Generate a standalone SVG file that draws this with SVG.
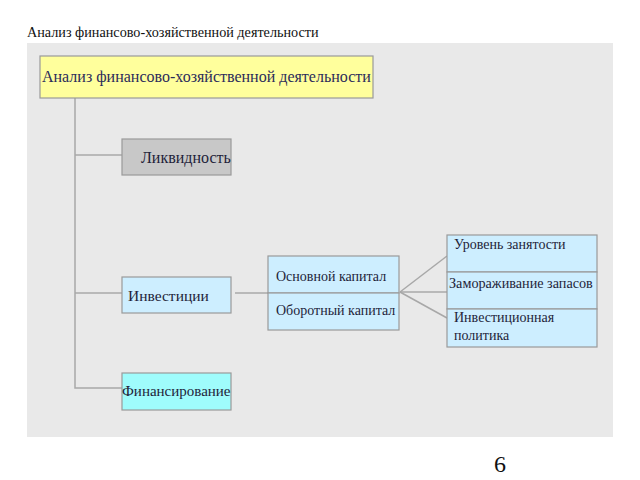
<svg xmlns="http://www.w3.org/2000/svg" width="640" height="480" viewBox="0 0 640 480">
<style>
text{font-family:"Liberation Serif","DejaVu Serif",serif;fill:#1f1f3a}
.box{stroke:#9a9a9a;stroke-width:1.2}
.blue{fill:#cdeeff}
.conn line,.conn polyline{stroke:#a8a8a8;stroke-width:1.5;fill:none}
.s13{font-size:14px}
.s15{font-size:15.5px}
</style>
<rect width="640" height="480" fill="#ffffff"/>
<text x="27" y="37" font-size="14.2" style="fill:#111">Анализ финансово-хозяйственной деятельности</text>
<rect x="27" y="43" width="586" height="394" fill="#e9e9e9"/>
<g class="conn">
<polyline points="75,98 75,388 122,388"/>
<line x1="75" y1="155" x2="122" y2="155"/>
<line x1="75" y1="293" x2="122" y2="293"/>
<line x1="235" y1="293" x2="268" y2="293"/>
<line x1="400" y1="292" x2="447" y2="256"/>
<line x1="400" y1="292" x2="447" y2="292"/>
<line x1="400" y1="292" x2="447" y2="318"/>
</g>
<g id="root">
<rect class="box" x="40" y="56" width="333" height="42" fill="#ffff9c"/>
<text x="42" y="82" font-size="16" style="fill:#2c2c5a">Анализ финансово-хозяйственной деятельности</text>
</g>
<g id="liq">
<rect class="box" x="122" y="139" width="109" height="36" fill="#c8c8c8"/>
<text x="141" y="163" font-size="16">Ликвидность</text>
</g>
<g id="inv">
<rect class="box blue" x="122" y="277" width="109" height="36"/>
<text class="s15" x="128" y="301">Инвестиции</text>
</g>
<g id="fin">
<rect class="box" x="122" y="373" width="109" height="37" fill="#9ffcfc"/>
<text x="122" y="396" font-size="15">Финансирование</text>
</g>
<g id="osn">
<rect class="box blue" x="268" y="256" width="131" height="37"/>
<text class="s13" x="276" y="281">Основной капитал</text>
</g>
<g id="obor">
<rect class="box blue" x="268" y="293" width="131" height="37"/>
<text class="s13" x="276" y="315">Оборотный капитал</text>
</g>
<g id="ur">
<rect class="box blue" x="447" y="235" width="150" height="37"/>
<text class="s13" x="454" y="249">Уровень занятости</text>
</g>
<g id="zam">
<rect class="box blue" x="447" y="272" width="150" height="37"/>
<text x="449" y="288" font-size="14.2">Замораживание запасов</text>
</g>
<g id="ip">
<rect class="box blue" x="447" y="309" width="150" height="38"/>
<text class="s13" x="454" y="322">Инвестиционная</text>
<text class="s13" x="454" y="340">политика</text>
</g>
<text x="494" y="472" font-size="24" style="fill:#111">6</text>
</svg>
